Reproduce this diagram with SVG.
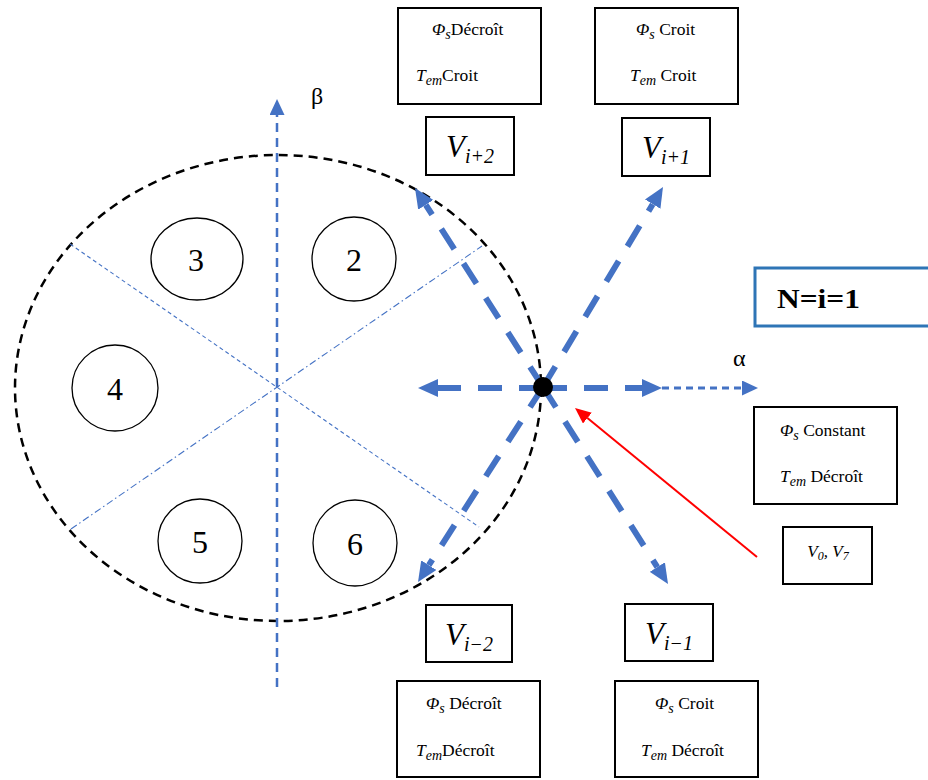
<svg xmlns="http://www.w3.org/2000/svg" width="928" height="780" viewBox="0 0 928 780">
  <style>
    .box { fill: #ffffff; stroke: #000000; stroke-width: 2; }
    .t { font-family: "Liberation Serif", "Times New Roman", serif; fill: #000000; }
    .bt { font-size: 17.5px; }
    .it { font-style: italic; }
    .sm { font-size: 14px; }
    .vl { font-size: 31px; }
    .vs { font-size: 20px; font-style: italic; }
    .num { font-size: 32px; text-anchor: middle; }
    .sector { fill: none; stroke: #000000; stroke-width: 1.3; }
    .blue { stroke: #4472C4; fill: none; }
    .thick { stroke-width: 6; stroke-dasharray: 24 17; }
  </style>
  <defs>
    <marker id="headBig" markerUnits="userSpaceOnUse" viewBox="0 0 20 18" markerWidth="20" markerHeight="18" refX="0" refY="9" orient="auto">
      <path d="M0,0 L20,9 L0,18 z" fill="#4472C4"/>
    </marker>
    <marker id="headSmall" markerUnits="userSpaceOnUse" viewBox="0 0 16 15" markerWidth="16" markerHeight="15" refX="0" refY="7.5" orient="auto">
      <path d="M0,0 L16,7.5 L0,15 z" fill="#4472C4"/>
    </marker>
    <marker id="headRed" markerUnits="userSpaceOnUse" viewBox="0 0 16 14" markerWidth="16" markerHeight="14" refX="0" refY="7" orient="auto">
      <path d="M0,0 L16,7 L0,14 z" fill="#FF0000"/>
    </marker>
  </defs>

  <!-- sector plane: boundary, axes, sector dividers -->
  <g id="plane">
    <ellipse cx="278" cy="388" rx="263" ry="233" fill="none" stroke="#000000" stroke-width="2.5" stroke-dasharray="9 6"/>
    <line x1="70" y1="244" x2="479" y2="527" class="blue" stroke-width="1.1" stroke-dasharray="4 3"/>
    <line x1="71" y1="529" x2="482" y2="246" class="blue" stroke-width="1.1" stroke-dasharray="7 3 1.5 3"/>
    <line x1="277" y1="687" x2="277" y2="115" class="blue" stroke-width="2.5" stroke-dasharray="9 6" marker-end="url(#headSmall)"/>
    <text class="t" x="311" y="104" font-size="24">β</text>
    <text class="t" x="733" y="366" font-size="24">α</text>
  </g>

  <!-- sector numbers -->
  <g id="sector-3"><ellipse cx="197" cy="259" rx="46" ry="41" class="sector"/><text class="t num" x="196" y="271">3</text></g>
  <g id="sector-2"><ellipse cx="354" cy="259" rx="42" ry="42" class="sector"/><text class="t num" x="354" y="271">2</text></g>
  <g id="sector-4"><ellipse cx="115" cy="388" rx="43" ry="43" class="sector"/><text class="t num" x="115" y="400">4</text></g>
  <g id="sector-5"><ellipse cx="200" cy="541" rx="42" ry="42" class="sector"/><text class="t num" x="200" y="553">5</text></g>
  <g id="sector-6"><ellipse cx="355" cy="543" rx="42" ry="43" class="sector"/><text class="t num" x="355" y="555">6</text></g>

  <!-- voltage vectors from the flux tip -->
  <g id="connectors">
    <path d="M543,387 L425.8,204.8" class="blue thick" marker-end="url(#headBig)"/>
    <path d="M543,387 L652.7,204.2" class="blue thick" marker-end="url(#headBig)"/>
    <path d="M543,388 L438,388" class="blue thick" marker-end="url(#headBig)"/>
    <path d="M543,388 L642,388" class="blue thick" marker-end="url(#headBig)"/>
    <path d="M543,387 L428.8,565.2" class="blue thick" marker-end="url(#headBig)"/>
    <path d="M543,387 L657.3,567.1" class="blue thick" marker-end="url(#headBig)"/>
    <path d="M662,388 L742,388" class="blue" stroke-width="3" stroke-dasharray="7 5" marker-end="url(#headSmall)"/>
    <path d="M757,557 L587.4,418.1" fill="none" stroke="#FF0000" stroke-width="2" marker-end="url(#headRed)"/>
  </g>

  <g id="flux-tip"><circle cx="543" cy="387" r="10" fill="#000000"/></g>

  <!-- effect boxes -->
  <g id="box-i-plus-2">
    <rect x="398" y="8" width="143" height="96" class="box"/>
    <text class="t bt" x="432" y="35"><tspan class="it">Φ</tspan><tspan class="it sm" dy="4">s</tspan><tspan dy="-4">Décroît</tspan></text>
    <text class="t bt" x="416" y="81"><tspan class="it">T</tspan><tspan class="it sm" dy="4">em</tspan><tspan dy="-4">Croit</tspan></text>
  </g>
  <g id="box-i-plus-1">
    <rect x="595" y="8" width="143" height="96" class="box"/>
    <text class="t bt" x="636" y="35"><tspan class="it">Φ</tspan><tspan class="it sm" dy="4">s</tspan><tspan dy="-4"> Croit</tspan></text>
    <text class="t bt" x="630" y="81"><tspan class="it">T</tspan><tspan class="it sm" dy="4">em</tspan><tspan dy="-4"> Croit</tspan></text>
  </g>
  <g id="box-zero">
    <rect x="754" y="407" width="143" height="97" class="box"/>
    <text class="t bt" x="780" y="436"><tspan class="it">Φ</tspan><tspan class="it sm" dy="4">s</tspan><tspan dy="-4"> Constant</tspan></text>
    <text class="t bt" x="780" y="482"><tspan class="it">T</tspan><tspan class="it sm" dy="4">em</tspan><tspan dy="-4"> Décroît</tspan></text>
  </g>
  <g id="box-i-minus-2">
    <rect x="397" y="681" width="143" height="96" class="box"/>
    <text class="t bt" x="426" y="709"><tspan class="it">Φ</tspan><tspan class="it sm" dy="4">s</tspan><tspan dy="-4"> Décroît</tspan></text>
    <text class="t bt" x="416" y="756"><tspan class="it">T</tspan><tspan class="it sm" dy="4">em</tspan><tspan dy="-4">Décroît</tspan></text>
  </g>
  <g id="box-i-minus-1">
    <rect x="615" y="681" width="143" height="96" class="box"/>
    <text class="t bt" x="655" y="709"><tspan class="it">Φ</tspan><tspan class="it sm" dy="4">s</tspan><tspan dy="-4"> Croit</tspan></text>
    <text class="t bt" x="641" y="756"><tspan class="it">T</tspan><tspan class="it sm" dy="4">em</tspan><tspan dy="-4"> Décroît</tspan></text>
  </g>

  <!-- vector labels -->
  <g id="v-i-plus-2">
    <rect x="426" y="117" width="88" height="58" class="box"/>
    <text class="t" x="470" y="157" text-anchor="middle"><tspan class="vl it">V</tspan><tspan class="vs" dy="6">i+2</tspan></text>
  </g>
  <g id="v-i-plus-1">
    <rect x="622" y="118" width="88" height="58" class="box"/>
    <text class="t" x="666" y="158" text-anchor="middle"><tspan class="vl it">V</tspan><tspan class="vs" dy="6">i+1</tspan></text>
  </g>
  <g id="v-i-minus-2">
    <rect x="426" y="605" width="86" height="57" class="box"/>
    <text class="t" x="469" y="645" text-anchor="middle"><tspan class="vl it">V</tspan><tspan class="vs" dy="6">i−2</tspan></text>
  </g>
  <g id="v-i-minus-1">
    <rect x="625" y="604" width="88" height="57" class="box"/>
    <text class="t" x="669" y="644" text-anchor="middle"><tspan class="vl it">V</tspan><tspan class="vs" dy="6">i−1</tspan></text>
  </g>
  <g id="v-zero">
    <rect x="783" y="527" width="89" height="57" class="box"/>
    <text class="t it" x="828" y="557" text-anchor="middle" font-size="17">V<tspan font-size="12" dy="3">0</tspan><tspan dy="-3">, V</tspan><tspan font-size="12" dy="3">7</tspan></text>
  </g>

  <!-- sector index -->
  <g id="sector-index">
    <rect x="755" y="268" width="185" height="58" fill="#ffffff" stroke="#2E75B6" stroke-width="3"/>
    <text class="t" x="777" y="308" font-size="28" font-weight="bold" textLength="83" lengthAdjust="spacingAndGlyphs">N=i=1</text>
  </g>
</svg>
